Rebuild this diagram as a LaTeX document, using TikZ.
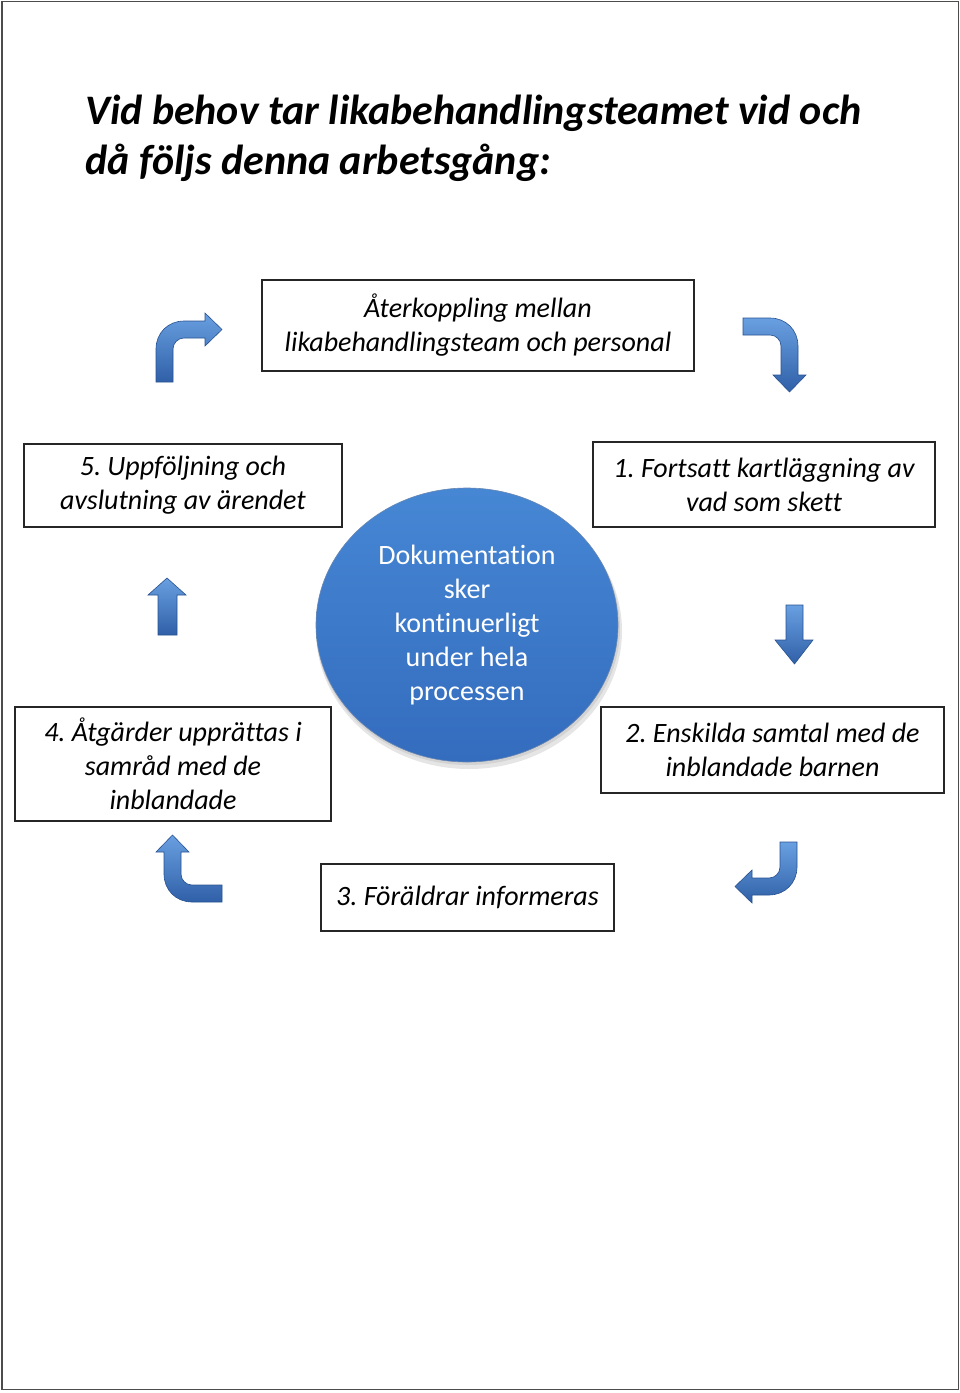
\documentclass[tikz,border=0pt]{standalone}
\usepackage{fontspec}
\setmainfont[Ligatures=NoCommon]{Carlito}
\usetikzlibrary{shapes.geometric}
\definecolor{alight}{RGB}{105,160,225}
\definecolor{adark}{RGB}{48,96,168}
\definecolor{aedge}{RGB}{40,82,145}
\definecolor{eltop}{RGB}{70,135,212}
\definecolor{elbot}{RGB}{52,108,190}
\newcommand\boxfont{\fontsize{28}{34}\selectfont\itshape\frenchspacing}
\newcommand\bentarrow[5]{%
  \begin{scope}[shift={#1}, x={#2}, y={#3}]
    \path[arrowshape] (0,#4) -- (0,28) .. controls (0,12) and (12,0) .. (28,0) -- (#5,0) -- (#5,-8)
      -- ({#5+17},8.5) -- (#5,25) -- (#5,17) -- (28,17) .. controls (22,17) and (17,22) .. (17,28)
      -- (17,#4) -- cycle;
  \end{scope}}
\begin{document}
\begin{tikzpicture}[x=1pt,y=-1pt,
  stepbox/.style={draw=black!85, line width=1.1pt, fill=white, font=\boxfont, align=center, inner sep=0pt},
  arrowshape/.style={draw=aedge, line width=0.6pt, top color=alight, bottom color=adark},
  titletext/.style={font=\fontsize{42}{52}\selectfont\bfseries\itshape, anchor=base west, inner sep=0pt}]
\useasboundingbox (0,0) rectangle (960,1393);
\draw[black!70, line width=1.2pt] (2,1.5) rectangle (958.5,1389.5);

\node[titletext] (t1) at (85,124) {Vid behov tar likabehandlingsteamet vid och};
\node[titletext] (t2) at (85,174) {då följs denna arbetsgång:};

\node[stepbox, minimum width=432pt, minimum height=91pt] (top) at (478,325.5) {Återkoppling mellan\\likabehandlingsteam och personal};
\node[stepbox, minimum width=318pt, minimum height=83pt] (b5) at (183,485.5) {5. Uppföljning och\\avslutning av ärendet};
\node[stepbox, minimum width=342pt, minimum height=85pt] (b1) at (764,484.5) {1. Fortsatt kartläggning av\\vad som skett};
\node[stepbox, minimum width=316pt, minimum height=114pt] (b4) at (173,764) {4. Åtgärder upprättas i\\samråd med de\\inblandade};
\node[stepbox, minimum width=343pt, minimum height=86pt] (b2) at (772.5,750) {2. Enskilda samtal med de\\inblandade barnen};
\node[stepbox, minimum width=293pt, minimum height=67pt] (b3) at (467.5,897.5) {3. Föräldrar informeras};

% central ellipse with soft shadow
\fill[black, opacity=0.10] (469,631) ellipse [x radius=153, y radius=138];
\fill[black, opacity=0.08] (468,628) ellipse [x radius=152, y radius=137];
\node[ellipse, minimum width=302pt, minimum height=274pt, inner sep=0pt, draw=aedge!70, line width=0.6pt,
  top color=eltop, bottom color=elbot, text=white, align=center,
  font=\fontsize{28}{34}\selectfont] (doc) at (467,625)
  {Dokumentation\\sker\\kontinuerligt\\under hela\\processen};

% bent arrows
\bentarrow{(156,321)}{(1pt,0pt)}{(0pt,-1pt)}{61}{49}
\bentarrow{(798,318)}{(0pt,-1pt)}{(-1pt,0pt)}{55}{57}
\bentarrow{(164,902)}{(0pt,1pt)}{(1pt,0pt)}{58}{50}
\bentarrow{(797,895)}{(-1pt,0pt)}{(0pt,1pt)}{53}{45}

% straight arrows
\path[arrowshape] (158,635) -- (158,595) -- (148,595) -- (167,578) -- (186,595) -- (177,595) -- (177,635) -- cycle;
\path[arrowshape] (786,605) -- (803,605) -- (803,640) -- (813,640) -- (794.5,664) -- (775,640) -- (786,640) -- cycle;
\end{tikzpicture}
\end{document}
